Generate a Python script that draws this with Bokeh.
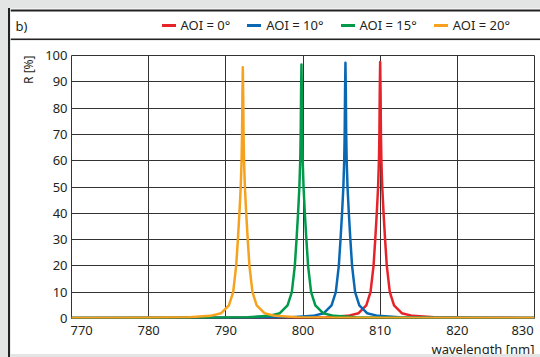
from bokeh.plotting import figure
from bokeh.models import Range1d, FixedTicker, Legend, LegendItem, Div, Title
from bokeh.layouts import column, row
from bokeh.core.properties import value
from bokeh.embed import file_html
from bokeh.resources import INLINE

# ---------------- data ----------------
x_ticks = [770, 780, 790, 800, 810, 820, 830]
y_ticks = [0, 10, 20, 30, 40, 50, 60, 70, 80, 90, 100]

series_labels = ["AOI = 0°", "AOI = 10°", "AOI = 15°", "AOI = 20°"]
series_colors = ["#e52329", "#0a68b3", "#009a4a", "#f6a21e"]

wl_aoi0 = [770, 798.0, 803.0, 805.8, 807.2, 808.2, 808.75, 809.14, 809.36, 809.56, 809.73, 809.84, 809.9, 809.95, 810.0,
           810.05, 810.1, 810.16, 810.27, 810.44, 810.64, 810.86, 811.25, 811.8, 812.8, 814.2, 817.0, 822.0, 830]
r_aoi0 = [0.2, 0.3, 0.5, 1, 2, 5, 10, 20, 30, 40, 50, 60, 70, 87, 97.5,
          87, 70, 60, 50, 40, 30, 20, 10, 5, 2, 1, 0.5, 0.3, 0.2]

wl_aoi10 = [770, 793.5, 798.5, 801.3, 802.7, 803.7, 804.25, 804.64, 804.86, 805.06, 805.23, 805.34, 805.4, 805.45, 805.5,
            805.55, 805.6, 805.66, 805.77, 805.94, 806.14, 806.36, 806.75, 807.3, 808.3, 809.7, 812.5, 817.5, 830]
r_aoi10 = [0.2, 0.3, 0.5, 1, 2, 5, 10, 20, 30, 40, 50, 60, 70, 86.5, 97.2,
           86.5, 70, 60, 50, 40, 30, 20, 10, 5, 2, 1, 0.5, 0.3, 0.2]

wl_aoi15 = [770, 787.8, 792.8, 795.6, 797.0, 798.0, 798.55, 798.94, 799.16, 799.36, 799.53, 799.64, 799.7, 799.75, 799.8,
            799.85, 799.9, 799.96, 800.07, 800.24, 800.44, 800.66, 801.05, 801.6, 802.6, 804.0, 806.8, 811.8, 830]
r_aoi15 = [0.2, 0.3, 0.5, 1, 2, 5, 10, 20, 30, 40, 50, 60, 70, 86, 96.6,
           86, 70, 60, 50, 40, 30, 20, 10, 5, 2, 1, 0.5, 0.3, 0.2]

wl_aoi20 = [770, 780.2, 785.2, 788.0, 789.4, 790.4, 790.95, 791.34, 791.56, 791.76, 791.93, 792.04, 792.1, 792.15, 792.2,
            792.25, 792.3, 792.36, 792.47, 792.64, 792.84, 793.06, 793.45, 794.0, 795.0, 796.4, 799.2, 804.2, 830]
r_aoi20 = [0.2, 0.3, 0.5, 1, 2, 5, 10, 20, 30, 40, 50, 60, 70, 85, 95.5,
           85, 70, 60, 50, 40, 30, 20, 10, 5, 2, 1, 0.5, 0.3, 0.2]

series_x = [wl_aoi0, wl_aoi10, wl_aoi15, wl_aoi20]
series_y = [r_aoi0, r_aoi10, r_aoi15, r_aoi20]

panel_label = "b)"
x_title = "wavelength [nm]"
y_title = "R [%]"

# ---------------- style ----------------
FONT = "Noto Sans"
INK = "#231f20"
GRID = "#333333"
BORDER = "#222222"
FS = "13px"

# ---------------- header (panel label + legend) ----------------
HW, HH = 530, 32
h = figure(width=HW, height=HH, x_range=Range1d(0, HW), y_range=Range1d(0, HH),
           x_axis_type=None, y_axis_type=None, output_backend="svg",
           toolbar_location=None, tools="", min_border=0, frame_align=False,
           outline_line_color=None, background_fill_color="white",
           border_fill_color="white", styles={"flex-shrink": "0"})
# top border of the panel and the separator below the header
h.segment(x0=[0, 0], y0=[30, 1], x1=[HW, HW], y1=[30, 1],
          line_color=BORDER, line_width=2)
h.text(x=[5], y=[15], text=[panel_label], text_font=value(FONT), text_font_size=FS,
       text_baseline="middle", text_align="left", text_color=INK)

items = []
for lab, col in zip(series_labels, series_colors):
    r = h.line(x=[-20, -10], y=[-20, -20], line_color=col, line_width=3, line_cap="round")
    items.append(LegendItem(label=lab, renderers=[r]))
legend = Legend(items=items, orientation="horizontal", location=(151.5, 5),
                glyph_width=14, glyph_height=20, label_height=20, label_standoff=5,
                spacing=17, padding=0, margin=0, border_line_color=None,
                background_fill_alpha=0, label_text_font=FONT,
                label_text_font_size=FS, label_text_color=INK,
                label_text_baseline="middle")
h.add_layout(legend)

# ---------------- main plot ----------------
p = figure(width=530, height=314, x_range=Range1d(x_ticks[0], x_ticks[-1]),
           y_range=Range1d(y_ticks[0], y_ticks[-1]),
           output_backend="svg", toolbar_location=None, tools="",
           frame_align=False,
           min_border_left=61, min_border_right=6, min_border_top=15,
           min_border_bottom=30, background_fill_color="white",
           border_fill_color="white", outline_line_color=GRID,
           outline_line_width=1, styles={"flex-shrink": "0"})

p.xaxis.ticker = FixedTicker(ticks=x_ticks)
p.yaxis.ticker = FixedTicker(ticks=y_ticks)
p.xgrid.ticker = FixedTicker(ticks=x_ticks)
p.ygrid.ticker = FixedTicker(ticks=y_ticks)
for g in (p.xgrid, p.ygrid):
    g.grid_line_color = GRID
    g.grid_line_alpha = 1
    g.grid_line_width = 1

# edge tick labels sit inside the frame, as in the reference
p.xaxis.major_label_overrides = {x_ticks[0]: "\u00a0" * 6 + str(x_ticks[0]),
                                 x_ticks[-1]: str(x_ticks[-1]) + "\u00a0" * 2}

for ax in (p.xaxis, p.yaxis):
    ax.axis_line_color = None
    ax.major_tick_line_color = None
    ax.minor_tick_line_color = None
    ax.major_tick_out = 0
    ax.major_tick_in = 0
    ax.minor_tick_out = 0
    ax.minor_tick_in = 0
    ax.major_label_text_font = FONT
    ax.major_label_text_font_size = FS
    ax.major_label_text_color = INK

p.xaxis.major_label_standoff = 2
p.yaxis.major_label_standoff = 4

# axis titles, right/top aligned to the frame as in the reference
xt = Title(text=x_title, align="right", standoff=-7, offset=0,
           text_font=FONT, text_font_size=FS, text_font_style="normal",
           text_color=INK)
p.add_layout(xt, "below")
yt = Title(text=y_title, align="right", standoff=12, offset=0,
           text_font=FONT, text_font_size="12px", text_font_style="normal",
           text_color=INK)
p.add_layout(yt, "left")

for xs, ys, col in zip(series_x, series_y, series_colors):
    p.line(xs, ys, line_color=col, line_width=2.5, line_join="round")

left_border = Div(text="", width=2, height=349, margin=0,
                  styles={"background-color": BORDER, "flex-shrink": "0"})
layout = row(left_border, column(h, p, spacing=0, styles={"flex-shrink": "0"}),
             spacing=0)

TEMPLATE = """{% block postamble %}<style>
html { background-color: #e2e5e4; overflow: hidden; }
body { background-color: #e2e5e4; margin: 8px; width: 532px; height: 349px; overflow: visible; }
</style>{% endblock %}"""

open("out.html", "w").write(file_html(layout, INLINE, template=TEMPLATE))
